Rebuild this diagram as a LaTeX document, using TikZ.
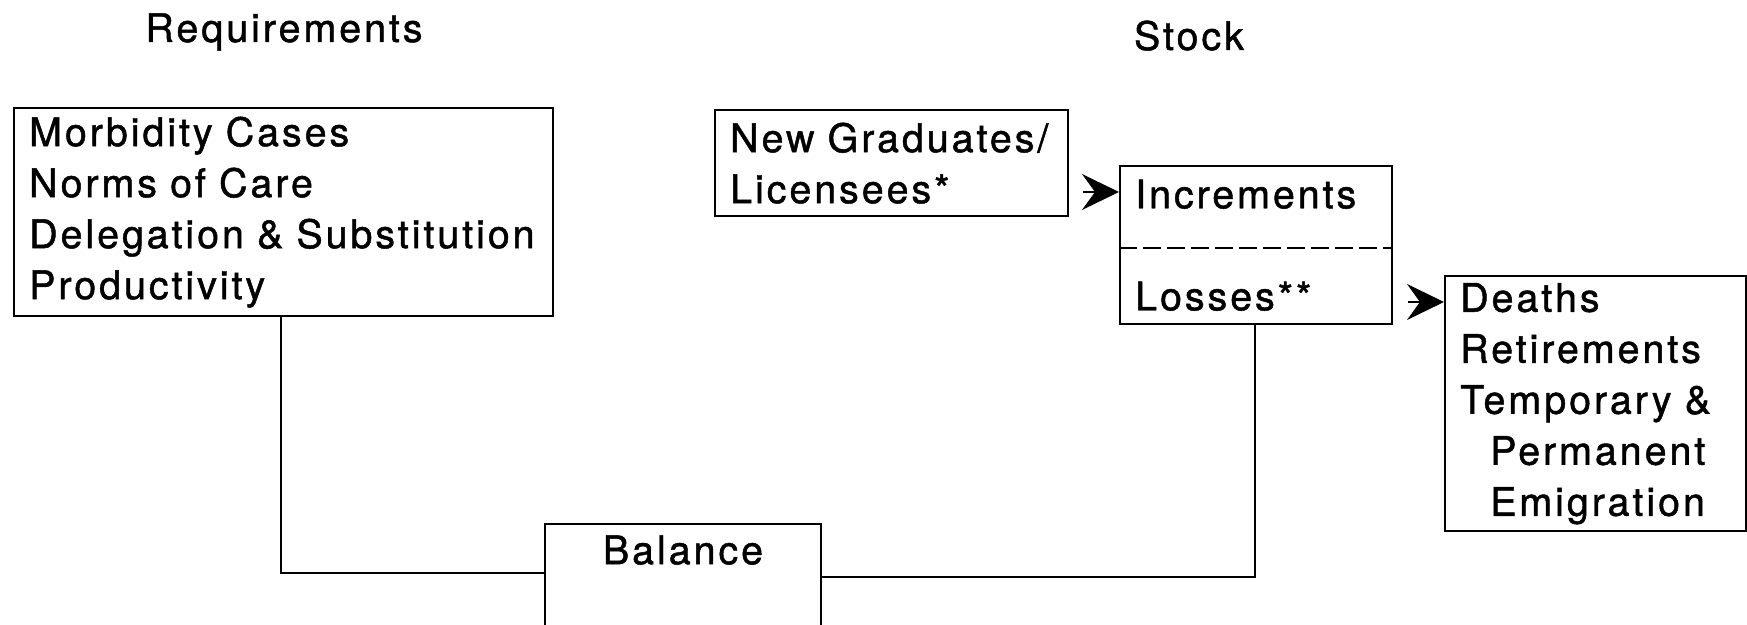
\documentclass[tikz,border=0pt]{standalone}
\usepackage{fontspec}
\setmainfont{TeX Gyre Heros}[LetterSpace=7.5, FakeBold=1.2]
\usetikzlibrary{arrows.meta,calc}
\tikzset{
  box/.style={draw, line width=1.2pt, anchor=north west, align=left,
    inner xsep=7.5pt, inner ysep=0pt,
    font=\fontsize{19.7}{25.5}\selectfont},
  link/.style={line width=1.1pt},
  head/.style={line width=0.6pt, -{Stealth[length=18.5pt, width=18pt, inset=6.5pt]}},
  title/.style={anchor=base, inner sep=0pt, font=\fontsize{19.7}{25.5}\selectfont}
}
\begin{document}
\begin{tikzpicture}[x=0.5pt, y=-0.5pt]
\useasboundingbox (0,0) rectangle (1747,625);
\node[title] (treq) at (284,42) {Requirements};
\node[title] (tstock) at (1189,50) {Stock};
\node[box, minimum width=269.5pt, minimum height=104pt, text width=254.5pt] (req) at (13,107)
  {\mbox{Morbidity Cases}\\\mbox{Norms of Care}\\\mbox{Delegation \& Substitution}\\\mbox{Productivity}};
\node[box, minimum width=176.5pt, minimum height=53pt, text width=161.5pt] (ng) at (714,109)
  {\mbox{New Graduates/}\\\mbox{Licensees*}};
\node[box, minimum width=136pt, minimum height=79pt, text width=121pt] (inc) at (1119,165)
  {Increments\\[25.5pt]Losses**};
\node[box, minimum width=150.5pt, minimum height=127.5pt, text width=135.5pt] (dth) at (1444,275)
  {Deaths\\Retirements\\\mbox{Temporary \&}\\\hspace*{15pt}Permanent\\\hspace*{15pt}Emigration};
\node[draw, line width=1.2pt, anchor=north, inner xsep=0pt, inner ysep=6pt,
  minimum width=138pt, text height=14pt, text depth=60pt,
  font=\fontsize{19.7}{25.5}\selectfont] (bal) at (683,523) {Balance};
\draw[line width=1.1pt, dash pattern=on 9pt off 3pt] ($(inc.west)+(0,3)$) -- ($(inc.east)+(0,3)$);
\draw[link] ($(req.south west)+(268,0)$) |- ($(bal.north west)+(0,50)$);
\draw[link] ($(inc.south west)+(136,0)$) |- ($(bal.north east)+(0,54)$);
\coordinate (t1) at (1083,192);
\coordinate (t2) at (1408,302);
\draw[head] (t1) -- (t1 -| inc.west);
\draw[head] (t2) -- (t2 -| dth.west);
\end{tikzpicture}
\end{document}
